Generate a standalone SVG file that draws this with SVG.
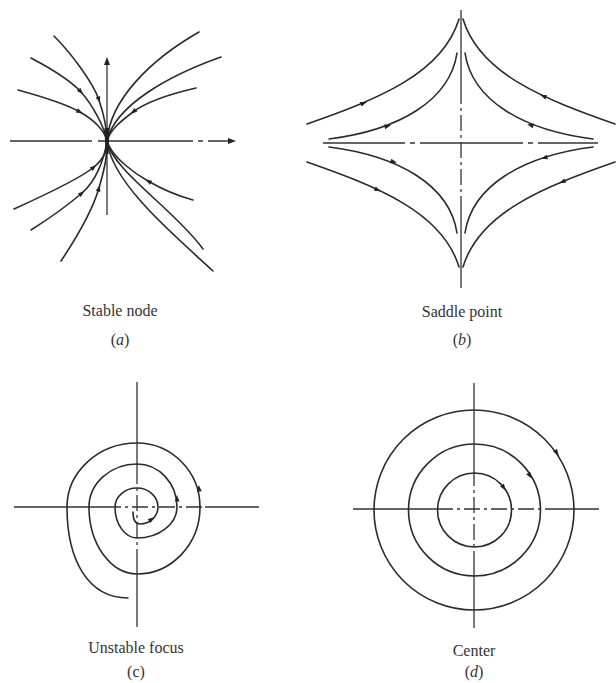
<svg xmlns="http://www.w3.org/2000/svg" xmlns:xlink="http://www.w3.org/1999/xlink" width="616" height="683" viewBox="0 0 616 683">
<style>
.c{fill:none;stroke:#2b2b2b;stroke-width:1.6;stroke-linecap:round}
.ax{fill:none;stroke:#333;stroke-width:1.3}
.dd{fill:none;stroke:#333;stroke-width:1.3;stroke-dasharray:16 4 3 4}
.lbl{font-family:"Liberation Serif","Times New Roman",serif;font-size:16px;fill:#333;text-anchor:middle}
</style>
<defs>
<path id="ah" d="M-3.5,-2.4 L3,0 L-3.5,2.4 Z" fill="#222"/>
<path id="axh" d="M-8,-3 L0,0 L-8,3 Z" fill="#222"/>
</defs>
<rect width="616" height="683" fill="#fff"/>

<g id="panel-a">
<path class="ax" d="M10,141 H92 M98,141 H193 M198,141 H203 M208,141 H230"/>
<use xlink:href="#axh" transform="translate(236,141)"/>
<path class="ax" d="M107,215 V64"/>
<use xlink:href="#axh" transform="translate(107,57) rotate(-90)"/>
<path class="c" d="M54,36 C70,52 93,82 99,100 S107,132 107,141"/>
<path class="c" d="M31,58 C50,68 70,80 81,92 S105,128 107,141"/>
<path class="c" d="M18,90 C40,96 64,103 80,112 S105,132 107,141"/>
<path class="c" d="M199,32 C150,60 110,100 107,141"/>
<path class="c" d="M221,57 C170,75 115,105 107,141"/>
<path class="c" d="M196,88 C170,94 145,103 133,112 S110,130 107,141"/>
<path class="c" d="M14,209 C45,195 82,177 94,167 S107,148 107,141"/>
<path class="c" d="M31,230 C50,218 68,205 82,193 S104,160 107,141"/>
<path class="c" d="M61,261 C75,240 92,212 99,188 S107,155 107,141"/>
<path class="c" d="M193,200 C175,195 160,188 148,181 S112,158 107,141"/>
<path class="c" d="M203,249 C175,210 112,170 107,141"/>
<path class="c" d="M213,271 C180,240 112,185 107,141"/>
<path d="M104.5,128 L109.5,128 L108.5,154 L105.5,154 Z" fill="#222"/>
<use xlink:href="#ah" transform="translate(99,100) rotate(72)"/>
<use xlink:href="#ah" transform="translate(81,92) rotate(47)"/>
<use xlink:href="#ah" transform="translate(80,112) rotate(29)"/>
<use xlink:href="#ah" transform="translate(133,112) rotate(143)"/>
<use xlink:href="#ah" transform="translate(94,167) rotate(-40)"/>
<use xlink:href="#ah" transform="translate(82,193) rotate(-41)"/>
<use xlink:href="#ah" transform="translate(99,188) rotate(-74)"/>
<use xlink:href="#ah" transform="translate(148,181) rotate(210)"/>
<text class="lbl" x="120" y="316">Stable node</text>
<text class="lbl" x="120" y="345">(<tspan font-style="italic">a</tspan>)</text>
</g>

<g id="panel-b">
<path class="ax" d="M323,143 H405 M410,143 H415 M420,143 H523 M528,143 H533 M538,143 H598"/>
<path class="ax" d="M461,10 V88 M461,200 V288"/>
<path class="dd" d="M461,88 V200"/>
<path class="c" d="M307,124 C377,99.5 442.5,74 459,19"/>
<path class="c" d="M329,139 C400,130 450,100 457,53"/>
<path class="c" d="M615,124 C545,99.5 479.5,74 463,19"/>
<path class="c" d="M593,139 C522,130 472,100 465,53"/>
<path class="c" d="M307,162 C377,186.5 442.5,212 459,267"/>
<path class="c" d="M329,147 C400,156 450,186 457,233"/>
<path class="c" d="M615,162 C545,186.5 479.5,212 463,267"/>
<path class="c" d="M593,147 C522,156 472,186 465,233"/>
<use xlink:href="#ah" transform="translate(364,103) rotate(-22)"/>
<use xlink:href="#ah" transform="translate(388,126) rotate(-14)"/>
<use xlink:href="#ah" transform="translate(543,96) rotate(-156)"/>
<use xlink:href="#ah" transform="translate(530,125) rotate(-164)"/>
<use xlink:href="#ah" transform="translate(394,162) rotate(16)"/>
<use xlink:href="#ah" transform="translate(378,190) rotate(24)"/>
<use xlink:href="#ah" transform="translate(544,158) rotate(164)"/>
<use xlink:href="#ah" transform="translate(562,182) rotate(157)"/>
<text class="lbl" x="462" y="317">Saddle point</text>
<text class="lbl" x="462" y="345">(<tspan font-style="italic">b</tspan>)</text>
</g>

<g id="panel-c">
<path class="ax" d="M14,507 H105 M205,507 H259 M137,382 V468 M137,560 V627"/>
<path class="dd" d="M105,507 H205 M137,468 V560"/>
<path class="c" d="M133,512 C133,520 135,524 140,524 C150,524 158,516 158,507 C158,496.5 148.5,488 137,488 C125,488 115,496.5 115,507 C115,524 125,538 137,538 C159,538 177,524 177,507 C177,483.4 159,464 137,464 C110.6,464 89,483.4 89,507 C89,543.9 110.6,574 137,574 C171.7,574 200,543.9 200,507 C200,471.8 171.7,443 137,443 C98.5,443 67,471.8 67,507 C67,560 88,598 128,598"/>
<use xlink:href="#ah" transform="translate(152,519) rotate(-35)"/>
<use xlink:href="#ah" transform="translate(177,498) rotate(-92)"/>
<use xlink:href="#ah" transform="translate(199,488) rotate(-96)"/>
<text class="lbl" x="136" y="653">Unstable focus</text>
<text class="lbl" x="136" y="677">(c)</text>
</g>

<g id="panel-d">
<path class="ax" d="M353,509 H437 M545,509 H599 M474,383 V470 M474,557 V628"/>
<path class="dd" d="M437,509 H545 M474,470 V557"/>
<circle class="c" cx="474" cy="510" r="100"/>
<circle class="c" cx="474.5" cy="510" r="66"/>
<circle class="c" cx="474.5" cy="510" r="37"/>
<use xlink:href="#ah" transform="translate(557,453) rotate(55)"/>
<use xlink:href="#ah" transform="translate(530,476) rotate(59)"/>
<use xlink:href="#ah" transform="translate(504,488) rotate(54)"/>
<text class="lbl" x="474" y="656">Center</text>
<text class="lbl" x="474" y="677">(<tspan font-style="italic">d</tspan>)</text>
</g>
</svg>
